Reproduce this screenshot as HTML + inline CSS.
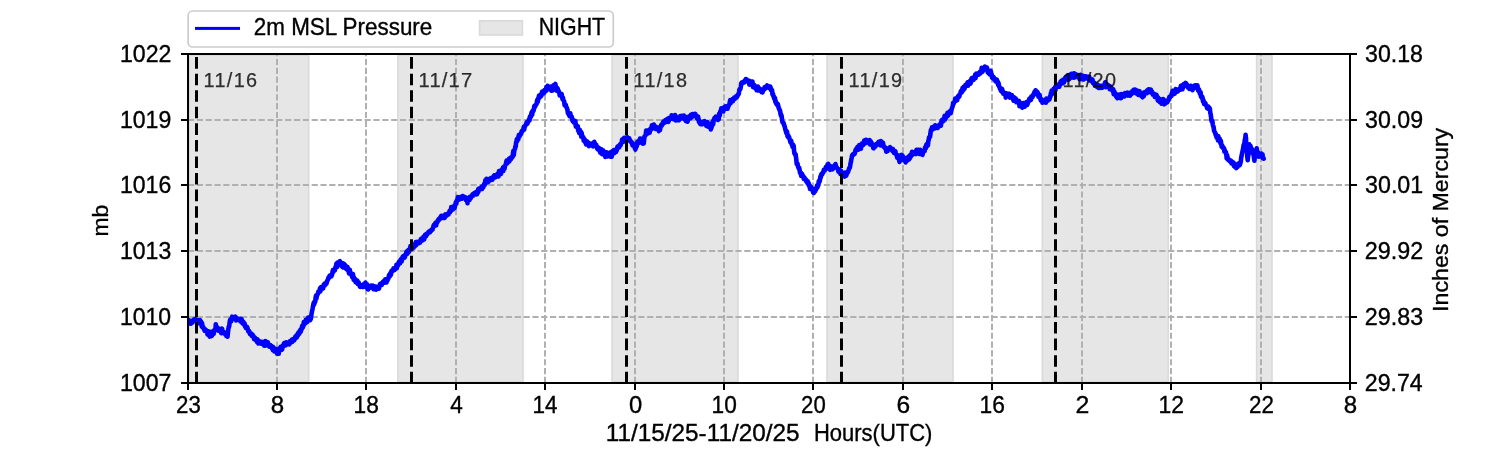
<!DOCTYPE html><html><head><meta charset="utf-8"><style>html,body{margin:0;padding:0;background:#fff;width:1500px;height:450px;overflow:hidden}</style></head><body><svg width="1500" height="450" viewBox="0 0 1500 450" style="display:block;will-change:transform">
<rect width="1500" height="450" fill="#fff"/>
<defs><clipPath id="ax"><rect x="189" y="55" width="1160" height="327"/></clipPath></defs>
<rect x="189.3" y="55.3" width="119.4" height="326.4" fill="#e6e6e6" stroke="#dadada" stroke-width="1.6"/>
<rect x="397.9" y="55.3" width="125.1" height="326.4" fill="#e6e6e6" stroke="#dadada" stroke-width="1.6"/>
<rect x="612.0" y="55.3" width="126.0" height="326.4" fill="#e6e6e6" stroke="#dadada" stroke-width="1.6"/>
<rect x="827.0" y="55.3" width="126.0" height="326.4" fill="#e6e6e6" stroke="#dadada" stroke-width="1.6"/>
<rect x="1042.3" y="55.3" width="125.9" height="326.4" fill="#e6e6e6" stroke="#dadada" stroke-width="1.6"/>
<rect x="1256.6" y="55.3" width="15.4" height="326.4" fill="#e6e6e6" stroke="#dadada" stroke-width="1.6"/>
<line x1="277" y1="383" x2="277" y2="54" stroke="#b0b0b0" stroke-width="2" stroke-dasharray="6.17 2.66"/>
<line x1="366" y1="383" x2="366" y2="54" stroke="#b0b0b0" stroke-width="2" stroke-dasharray="6.17 2.66"/>
<line x1="456" y1="383" x2="456" y2="54" stroke="#b0b0b0" stroke-width="2" stroke-dasharray="6.17 2.66"/>
<line x1="545" y1="383" x2="545" y2="54" stroke="#b0b0b0" stroke-width="2" stroke-dasharray="6.17 2.66"/>
<line x1="635" y1="383" x2="635" y2="54" stroke="#b0b0b0" stroke-width="2" stroke-dasharray="6.17 2.66"/>
<line x1="724" y1="383" x2="724" y2="54" stroke="#b0b0b0" stroke-width="2" stroke-dasharray="6.17 2.66"/>
<line x1="813" y1="383" x2="813" y2="54" stroke="#b0b0b0" stroke-width="2" stroke-dasharray="6.17 2.66"/>
<line x1="903" y1="383" x2="903" y2="54" stroke="#b0b0b0" stroke-width="2" stroke-dasharray="6.17 2.66"/>
<line x1="992" y1="383" x2="992" y2="54" stroke="#b0b0b0" stroke-width="2" stroke-dasharray="6.17 2.66"/>
<line x1="1082" y1="383" x2="1082" y2="54" stroke="#b0b0b0" stroke-width="2" stroke-dasharray="6.17 2.66"/>
<line x1="1171" y1="383" x2="1171" y2="54" stroke="#b0b0b0" stroke-width="2" stroke-dasharray="6.17 2.66"/>
<line x1="1261" y1="383" x2="1261" y2="54" stroke="#b0b0b0" stroke-width="2" stroke-dasharray="6.17 2.66"/>
<line x1="188" y1="120" x2="1350" y2="120" stroke="#b0b0b0" stroke-width="2" stroke-dasharray="6.17 2.66"/>
<line x1="188" y1="185" x2="1350" y2="185" stroke="#b0b0b0" stroke-width="2" stroke-dasharray="6.17 2.66"/>
<line x1="188" y1="251" x2="1350" y2="251" stroke="#b0b0b0" stroke-width="2" stroke-dasharray="6.17 2.66"/>
<line x1="188" y1="317" x2="1350" y2="317" stroke="#b0b0b0" stroke-width="2" stroke-dasharray="6.17 2.66"/>
<g clip-path="url(#ax)"><path d="M188.3,321.8 L188.7,323.2 L189.1,320.4 L189.5,322.8 L189.9,321.2 L190.3,321.1 L190.7,323.8 L191.1,321.5 L191.5,321.2 L191.8,322.1 L192.2,322.6 L192.6,321.1 L193.0,321.8 L193.4,319.8 L193.8,320.5 L194.2,320.4 L194.6,319.2 L195.0,318.9 L195.4,318.9 L195.8,320.8 L196.2,321.0 L196.7,321.0 L197.1,321.6 L197.5,320.0 L197.9,321.7 L198.3,322.2 L198.8,323.0 L199.2,321.2 L199.6,321.9 L200.0,320.0 L200.4,322.5 L200.8,321.2 L201.2,322.6 L201.7,326.4 L202.1,323.1 L202.5,327.3 L202.9,327.3 L203.3,327.1 L203.7,328.6 L204.1,329.3 L204.6,330.5 L205.0,329.4 L205.4,329.5 L205.8,330.1 L206.2,330.2 L206.6,331.9 L207.1,331.5 L207.5,334.4 L207.9,331.3 L208.3,332.8 L208.7,333.0 L209.1,331.7 L209.6,336.6 L210.0,331.7 L210.4,333.8 L210.8,333.5 L211.2,336.3 L211.6,331.7 L212.1,335.6 L212.5,333.3 L212.9,334.0 L213.3,333.4 L213.7,333.8 L214.1,330.3 L214.6,330.4 L215.0,329.6 L215.4,330.3 L215.8,324.2 L216.2,329.0 L216.6,328.6 L217.1,327.1 L217.5,328.4 L217.9,327.8 L218.3,330.8 L218.7,329.3 L219.2,329.1 L219.6,329.4 L220.0,329.7 L220.4,330.0 L220.8,329.4 L221.3,333.3 L221.7,328.6 L222.1,328.7 L222.5,331.3 L222.9,331.6 L223.4,332.5 L223.8,332.0 L224.2,332.3 L224.6,333.1 L225.0,334.1 L225.4,332.6 L225.8,332.9 L226.3,336.0 L226.7,334.4 L227.1,332.7 L227.5,336.7 L227.9,333.1 L228.3,329.3 L228.8,326.5 L229.2,326.2 L229.6,322.7 L230.0,320.4 L230.4,319.4 L230.8,319.8 L231.2,321.2 L231.7,318.7 L232.1,316.7 L232.5,318.8 L232.9,317.4 L233.3,317.8 L233.7,318.5 L234.1,317.0 L234.6,317.3 L235.0,317.7 L235.4,316.6 L235.8,319.2 L236.2,320.4 L236.6,319.1 L237.1,318.9 L237.5,319.1 L237.9,318.7 L238.3,319.0 L238.7,319.7 L239.1,319.4 L239.6,320.1 L240.0,318.8 L240.4,321.5 L240.8,321.3 L241.2,320.0 L241.6,319.1 L242.1,321.9 L242.5,323.5 L242.9,321.4 L243.3,321.9 L243.7,322.5 L244.1,324.7 L244.6,323.4 L245.0,326.5 L245.4,325.6 L245.8,327.8 L246.2,327.4 L246.6,327.7 L247.1,326.9 L247.5,328.6 L247.9,329.8 L248.3,331.6 L248.7,331.6 L249.1,330.9 L249.6,332.8 L250.0,334.0 L250.4,333.1 L250.8,333.2 L251.2,333.7 L251.6,335.8 L252.1,335.9 L252.5,334.5 L252.9,336.7 L253.3,336.1 L253.7,336.2 L254.1,339.2 L254.6,339.2 L255.0,337.7 L255.4,339.2 L255.8,340.2 L256.2,339.3 L256.6,340.4 L257.1,341.9 L257.5,339.3 L257.9,342.4 L258.3,343.4 L258.7,343.2 L259.1,340.9 L259.5,343.0 L259.9,341.6 L260.3,343.5 L260.7,343.5 L261.1,343.1 L261.5,341.9 L261.8,342.2 L262.2,344.0 L262.6,341.9 L263.0,343.7 L263.4,343.8 L263.8,342.8 L264.2,345.7 L264.6,343.3 L265.0,345.8 L265.4,341.0 L265.8,341.2 L266.2,345.1 L266.6,344.9 L267.0,343.9 L267.4,344.4 L267.8,342.3 L268.2,344.1 L268.5,343.8 L268.9,345.0 L269.3,346.6 L269.7,345.8 L270.1,346.4 L270.5,345.2 L270.9,345.8 L271.3,346.6 L271.7,346.3 L272.1,348.7 L272.5,346.4 L272.9,350.2 L273.2,347.0 L273.6,350.0 L274.0,348.0 L274.4,351.5 L274.8,350.0 L275.2,350.7 L275.6,351.5 L276.0,350.2 L276.3,350.0 L276.7,349.2 L277.1,353.7 L277.5,351.6 L277.9,351.3 L278.3,351.6 L278.7,353.7 L279.1,348.6 L279.5,350.6 L279.9,349.4 L280.3,350.1 L280.7,346.7 L281.1,348.1 L281.4,349.2 L281.8,349.7 L282.2,349.3 L282.6,345.7 L283.0,346.5 L283.4,345.8 L283.8,343.8 L284.2,343.3 L284.6,345.6 L285.0,344.5 L285.4,343.8 L285.8,345.3 L286.2,342.3 L286.6,344.1 L287.0,343.2 L287.4,342.9 L287.8,343.4 L288.2,342.8 L288.6,342.7 L289.0,342.5 L289.3,344.4 L289.7,341.4 L290.1,342.9 L290.5,342.2 L290.9,340.8 L291.3,342.0 L291.7,339.7 L292.1,342.1 L292.5,339.4 L292.9,339.6 L293.3,340.4 L293.7,340.6 L294.1,340.3 L294.5,339.8 L294.9,338.0 L295.3,336.6 L295.7,338.0 L296.1,337.3 L296.5,335.3 L296.8,337.3 L297.2,335.8 L297.6,333.9 L298.0,335.3 L298.4,332.6 L298.8,332.7 L299.2,333.9 L299.6,331.0 L300.0,332.5 L300.4,329.9 L300.8,331.6 L301.2,328.9 L301.7,329.1 L302.1,326.1 L302.5,326.7 L302.9,327.4 L303.3,325.9 L303.8,322.1 L304.2,324.7 L304.6,323.7 L305.0,321.2 L305.4,323.3 L305.8,319.9 L306.2,320.9 L306.5,322.2 L306.9,322.2 L307.3,322.0 L307.7,318.7 L308.1,317.6 L308.5,320.2 L308.9,317.6 L309.3,319.0 L309.6,317.4 L310.0,320.1 L310.4,319.5 L310.8,319.0 L311.2,315.9 L311.6,313.6 L312.1,310.8 L312.5,309.2 L312.9,306.7 L313.3,304.6 L313.7,302.6 L314.1,304.6 L314.5,301.7 L314.9,302.3 L315.3,301.3 L315.6,297.6 L316.0,295.7 L316.4,298.6 L316.8,295.6 L317.2,295.4 L317.6,294.0 L318.0,293.7 L318.4,291.5 L318.8,292.3 L319.2,291.3 L319.6,291.4 L319.9,288.4 L320.3,291.4 L320.7,290.3 L321.1,287.1 L321.5,287.9 L321.9,288.3 L322.3,288.5 L322.7,287.2 L323.1,288.5 L323.4,286.2 L323.8,284.4 L324.2,284.3 L324.6,285.6 L325.0,283.3 L325.4,284.6 L325.8,284.4 L326.2,283.3 L326.6,283.3 L326.9,281.3 L327.3,281.0 L327.7,279.8 L328.1,279.2 L328.5,277.5 L328.9,278.1 L329.3,276.8 L329.7,275.6 L330.1,276.9 L330.5,276.6 L330.9,275.0 L331.3,276.4 L331.7,275.2 L332.1,274.7 L332.5,271.9 L332.9,270.2 L333.3,272.1 L333.6,271.1 L334.0,270.9 L334.4,269.9 L334.8,270.3 L335.2,267.7 L335.6,268.2 L336.0,265.6 L336.4,263.7 L336.8,265.1 L337.2,267.0 L337.6,262.5 L338.0,265.4 L338.4,262.7 L338.8,262.5 L339.2,262.6 L339.6,262.3 L340.0,261.1 L340.4,262.9 L340.8,263.7 L341.2,264.5 L341.6,262.9 L342.0,266.1 L342.4,266.9 L342.8,267.4 L343.2,263.6 L343.6,265.9 L344.0,263.7 L344.4,266.9 L344.8,267.5 L345.2,265.7 L345.5,265.5 L345.9,268.2 L346.3,269.1 L346.7,267.7 L347.1,268.8 L347.5,267.1 L347.9,269.1 L348.2,270.7 L348.6,271.1 L349.0,273.3 L349.4,270.4 L349.8,269.7 L350.1,273.2 L350.5,272.4 L350.9,273.9 L351.3,274.9 L351.7,275.3 L352.1,276.9 L352.5,277.4 L352.9,274.1 L353.3,276.7 L353.6,279.9 L354.0,277.4 L354.4,279.7 L354.8,279.0 L355.2,279.1 L355.6,282.1 L356.0,282.0 L356.4,280.8 L356.8,282.7 L357.2,280.4 L357.6,281.6 L358.0,284.0 L358.4,283.4 L358.7,282.5 L359.1,284.8 L359.5,285.1 L359.9,286.7 L360.3,286.8 L360.7,285.7 L361.1,285.2 L361.5,285.4 L361.9,285.1 L362.3,287.0 L362.7,287.0 L363.1,286.5 L363.5,285.1 L363.9,284.1 L364.3,285.3 L364.7,283.6 L365.1,284.7 L365.5,282.7 L365.9,284.7 L366.3,287.4 L366.7,284.7 L367.1,284.5 L367.5,286.6 L367.9,289.3 L368.3,289.4 L368.7,287.5 L369.1,287.3 L369.5,287.7 L369.9,286.5 L370.3,287.6 L370.7,287.1 L371.1,285.5 L371.6,286.6 L372.0,286.9 L372.4,286.0 L372.8,285.6 L373.2,288.0 L373.6,289.2 L374.0,286.3 L374.4,286.4 L374.8,287.8 L375.2,287.2 L375.6,286.7 L376.1,289.7 L376.5,286.9 L376.9,287.5 L377.3,287.9 L377.7,287.1 L378.1,287.5 L378.5,288.1 L378.9,288.7 L379.3,287.3 L379.6,286.0 L380.0,284.0 L380.4,285.0 L380.8,283.5 L381.2,284.1 L381.6,285.0 L382.0,283.6 L382.4,282.8 L382.8,281.8 L383.2,282.5 L383.6,282.4 L384.0,280.9 L384.4,281.1 L384.9,282.6 L385.3,279.2 L385.7,280.5 L386.1,279.3 L386.5,282.5 L386.9,281.0 L387.3,280.6 L387.7,279.8 L388.1,278.9 L388.5,278.2 L389.0,275.1 L389.4,276.7 L389.8,276.5 L390.2,273.2 L390.6,275.3 L391.0,274.4 L391.5,270.9 L391.9,271.5 L392.3,271.0 L392.7,270.0 L393.1,270.8 L393.5,268.4 L393.9,269.3 L394.3,269.5 L394.7,269.8 L395.1,268.6 L395.6,267.9 L396.0,268.7 L396.4,264.9 L396.8,268.3 L397.2,266.3 L397.6,264.8 L398.0,265.5 L398.4,263.0 L398.8,262.0 L399.2,263.4 L399.6,262.1 L400.0,263.3 L400.4,260.5 L400.8,259.3 L401.2,259.0 L401.6,261.6 L402.0,258.7 L402.4,257.5 L402.8,256.6 L403.2,256.1 L403.6,256.8 L404.0,257.2 L404.4,257.7 L404.9,257.2 L405.3,255.7 L405.7,254.1 L406.1,253.5 L406.5,251.6 L406.9,252.4 L407.3,253.8 L407.7,252.3 L408.1,252.6 L408.5,249.8 L408.9,252.0 L409.3,250.7 L409.7,249.8 L410.1,249.6 L410.5,246.0 L410.9,247.2 L411.3,246.2 L411.7,249.3 L412.1,246.6 L412.5,245.9 L413.0,247.4 L413.4,244.7 L413.8,247.6 L414.2,244.6 L414.6,245.2 L415.0,243.9 L415.5,245.8 L415.9,242.0 L416.3,245.1 L416.7,243.0 L417.1,243.7 L417.5,241.9 L417.9,243.3 L418.4,242.9 L418.8,243.1 L419.2,242.4 L419.6,242.5 L420.0,242.6 L420.4,240.5 L420.9,239.2 L421.3,238.7 L421.7,240.9 L422.1,239.0 L422.5,240.4 L422.9,238.6 L423.4,236.8 L423.8,238.7 L424.2,239.5 L424.6,236.4 L425.0,235.0 L425.4,234.6 L425.9,236.3 L426.3,233.9 L426.7,233.7 L427.1,234.7 L427.5,233.5 L427.9,233.3 L428.3,232.2 L428.8,231.7 L429.2,232.4 L429.6,232.0 L430.0,232.2 L430.4,230.5 L430.8,231.2 L431.2,230.8 L431.6,229.7 L432.1,229.6 L432.5,229.6 L432.9,227.9 L433.3,227.1 L433.7,225.2 L434.1,226.2 L434.6,225.1 L435.0,224.2 L435.4,222.9 L435.8,224.0 L436.2,225.4 L436.6,223.0 L437.0,222.1 L437.4,222.1 L437.8,220.4 L438.2,220.8 L438.6,219.4 L438.9,219.0 L439.3,219.6 L439.7,219.2 L440.1,218.3 L440.5,217.0 L440.9,217.9 L441.3,215.8 L441.7,217.7 L442.1,216.4 L442.5,216.9 L442.9,218.0 L443.4,217.8 L443.8,215.6 L444.2,217.0 L444.6,217.9 L445.0,216.1 L445.4,214.4 L445.8,216.2 L446.3,215.7 L446.7,215.7 L447.1,214.7 L447.5,214.2 L447.9,213.7 L448.4,214.6 L448.8,212.9 L449.2,212.4 L449.6,210.8 L450.0,212.3 L450.4,210.2 L450.9,211.0 L451.3,207.1 L451.7,209.5 L452.1,208.7 L452.5,207.8 L452.9,209.6 L453.4,208.0 L453.8,206.9 L454.2,206.0 L454.6,208.1 L455.0,205.8 L455.4,204.7 L455.9,202.0 L456.3,203.7 L456.7,201.8 L457.1,199.8 L457.5,199.1 L457.9,197.0 L458.3,199.8 L458.7,197.5 L459.0,199.8 L459.4,198.1 L459.8,197.7 L460.2,198.9 L460.6,198.6 L461.0,196.8 L461.4,198.0 L461.8,198.7 L462.1,197.5 L462.5,196.0 L462.9,197.3 L463.3,196.3 L463.7,197.1 L464.1,198.2 L464.6,198.4 L465.0,198.6 L465.4,197.1 L465.8,199.9 L466.2,199.6 L466.7,199.6 L467.1,200.7 L467.5,203.2 L467.9,198.7 L468.3,197.9 L468.7,200.4 L469.1,198.0 L469.5,200.1 L469.9,196.8 L470.3,197.0 L470.6,198.1 L471.0,197.8 L471.4,196.7 L471.8,196.3 L472.2,195.1 L472.6,194.2 L473.0,194.1 L473.4,195.5 L473.8,194.3 L474.2,193.2 L474.6,193.4 L475.0,193.8 L475.4,194.1 L475.8,192.2 L476.1,192.1 L476.5,192.4 L476.9,194.3 L477.3,191.9 L477.7,193.0 L478.1,189.3 L478.5,191.8 L478.9,188.5 L479.3,188.5 L479.7,188.6 L480.1,188.7 L480.5,188.6 L480.9,188.4 L481.3,187.8 L481.7,186.5 L482.1,189.1 L482.5,186.6 L482.9,186.3 L483.3,187.4 L483.7,185.5 L484.1,184.4 L484.5,183.4 L484.9,184.7 L485.3,180.4 L485.7,180.5 L486.1,181.7 L486.5,178.9 L486.9,180.3 L487.3,182.5 L487.7,180.4 L488.1,181.1 L488.5,181.6 L488.9,179.1 L489.3,180.8 L489.7,179.5 L490.1,178.6 L490.5,179.4 L490.9,179.4 L491.2,178.7 L491.6,178.0 L492.0,179.8 L492.4,179.7 L492.8,178.7 L493.2,177.6 L493.6,176.1 L494.0,176.1 L494.3,175.5 L494.7,176.8 L495.1,177.4 L495.5,177.1 L495.9,175.7 L496.3,175.0 L496.7,175.4 L497.1,175.1 L497.5,175.4 L497.8,176.3 L498.2,173.3 L498.6,176.4 L499.0,171.1 L499.4,171.1 L499.8,171.2 L500.2,171.3 L500.6,171.8 L501.0,174.0 L501.4,170.1 L501.8,171.8 L502.1,169.5 L502.5,169.6 L502.9,167.6 L503.3,170.9 L503.7,167.8 L504.1,166.5 L504.5,169.0 L504.9,165.9 L505.3,165.4 L505.8,163.9 L506.2,162.2 L506.6,160.6 L507.0,161.4 L507.4,163.3 L507.8,161.5 L508.2,160.4 L508.6,161.6 L509.0,158.8 L509.4,161.4 L509.8,159.3 L510.2,157.9 L510.6,159.5 L511.0,159.0 L511.4,157.6 L511.8,157.3 L512.2,157.3 L512.6,156.9 L513.0,153.2 L513.4,150.8 L513.8,154.9 L514.2,151.1 L514.6,149.4 L515.0,148.9 L515.3,146.4 L515.7,146.7 L516.1,142.3 L516.5,142.1 L516.8,139.3 L517.2,141.3 L517.6,138.4 L518.0,139.4 L518.4,139.0 L518.8,135.1 L519.2,135.6 L519.7,136.1 L520.1,134.6 L520.5,133.6 L520.9,134.2 L521.3,133.5 L521.7,131.0 L522.1,130.8 L522.5,131.1 L522.9,129.9 L523.4,129.1 L523.8,126.8 L524.2,129.7 L524.6,126.6 L525.0,126.5 L525.4,125.4 L525.8,124.8 L526.2,124.3 L526.6,122.3 L527.1,123.2 L527.5,123.5 L527.9,121.8 L528.3,121.5 L528.7,120.4 L529.1,119.1 L529.5,120.5 L529.9,116.6 L530.3,117.1 L530.7,117.2 L531.1,115.4 L531.5,113.0 L531.8,112.1 L532.2,114.7 L532.6,110.7 L533.0,111.2 L533.4,111.0 L533.8,109.7 L534.2,106.6 L534.6,105.6 L535.0,107.1 L535.4,105.3 L535.8,105.1 L536.2,104.6 L536.6,103.8 L537.0,101.0 L537.4,99.6 L537.8,102.0 L538.2,99.1 L538.6,97.6 L539.0,95.6 L539.4,97.9 L539.8,95.2 L540.2,95.0 L540.6,96.6 L541.0,95.8 L541.4,95.7 L541.7,92.9 L542.1,91.6 L542.5,92.4 L542.9,92.8 L543.3,91.9 L543.7,93.4 L544.1,92.3 L544.5,90.1 L544.9,91.7 L545.2,90.3 L545.6,89.5 L546.0,91.0 L546.4,87.1 L546.8,90.0 L547.2,89.7 L547.6,85.9 L548.0,88.3 L548.4,88.4 L548.8,87.3 L549.2,88.1 L549.7,87.9 L550.1,89.1 L550.5,88.4 L550.9,86.7 L551.3,90.8 L551.7,90.5 L552.1,87.8 L552.5,89.4 L552.9,90.3 L553.4,85.2 L553.8,86.1 L554.2,85.4 L554.6,86.2 L555.0,84.6 L555.4,83.9 L555.8,87.9 L556.2,86.6 L556.6,88.5 L557.0,90.8 L557.4,88.0 L557.8,89.1 L558.2,91.4 L558.5,90.7 L558.9,92.2 L559.3,92.2 L559.7,95.4 L560.1,94.3 L560.5,94.6 L560.9,95.0 L561.3,95.9 L561.7,94.1 L562.1,96.7 L562.5,99.0 L562.9,97.5 L563.4,100.1 L563.8,100.9 L564.2,101.3 L564.6,105.4 L565.0,104.8 L565.4,105.3 L565.8,104.9 L566.2,106.9 L566.6,107.4 L567.1,108.7 L567.5,110.0 L567.9,113.2 L568.3,113.4 L568.7,114.5 L569.1,114.7 L569.5,116.2 L569.9,113.5 L570.3,113.3 L570.7,115.9 L571.1,116.6 L571.5,117.0 L571.8,116.8 L572.2,119.1 L572.6,121.1 L573.0,119.8 L573.4,119.9 L573.8,122.4 L574.2,121.1 L574.6,121.7 L575.0,123.2 L575.4,121.0 L575.8,126.6 L576.2,124.8 L576.6,126.3 L577.0,126.8 L577.4,127.6 L577.8,126.1 L578.2,130.8 L578.5,130.0 L578.9,130.4 L579.3,133.2 L579.7,129.8 L580.1,133.1 L580.5,132.7 L580.9,131.7 L581.3,136.7 L581.7,133.0 L582.1,136.0 L582.5,136.5 L582.9,137.7 L583.3,137.1 L583.7,140.8 L584.1,140.2 L584.5,139.1 L584.9,139.9 L585.3,142.6 L585.7,141.6 L586.1,144.5 L586.5,144.3 L586.9,143.2 L587.3,141.5 L587.7,142.3 L588.2,144.4 L588.6,143.3 L589.0,146.2 L589.4,143.4 L589.8,144.4 L590.2,144.8 L590.6,144.0 L591.0,144.3 L591.4,145.2 L591.8,143.7 L592.3,144.3 L592.7,143.5 L593.1,146.4 L593.5,144.1 L593.9,145.0 L594.3,141.8 L594.7,144.1 L595.1,143.7 L595.5,145.5 L595.9,145.3 L596.3,144.9 L596.6,146.3 L597.0,148.1 L597.4,148.8 L597.8,147.2 L598.2,149.6 L598.6,147.8 L599.0,149.8 L599.4,148.3 L599.8,151.1 L600.2,152.6 L600.6,150.0 L601.0,152.3 L601.4,149.2 L601.8,150.6 L602.2,154.2 L602.6,152.0 L602.9,153.0 L603.3,150.6 L603.7,153.0 L604.1,152.4 L604.5,155.2 L604.9,153.3 L605.3,156.9 L605.7,153.3 L606.1,155.4 L606.5,152.4 L606.9,154.4 L607.3,156.4 L607.7,154.6 L608.1,153.1 L608.5,155.3 L608.9,155.8 L609.3,155.1 L609.7,155.7 L610.1,152.6 L610.5,156.7 L610.9,155.2 L611.3,151.7 L611.7,156.6 L612.1,153.3 L612.5,154.2 L613.0,150.7 L613.4,152.0 L613.8,150.2 L614.2,153.2 L614.6,151.5 L615.0,150.2 L615.5,150.6 L615.9,152.1 L616.3,149.4 L616.7,150.7 L617.1,147.9 L617.5,146.7 L618.0,147.5 L618.4,147.1 L618.8,147.1 L619.2,147.4 L619.6,145.1 L620.0,144.5 L620.5,145.3 L620.9,144.3 L621.3,143.1 L621.7,142.8 L622.1,139.6 L622.5,141.0 L622.9,139.2 L623.4,140.4 L623.8,141.6 L624.2,137.9 L624.6,140.8 L625.0,138.5 L625.4,139.0 L625.8,138.8 L626.2,140.3 L626.7,138.6 L627.1,137.0 L627.5,140.0 L627.9,139.5 L628.3,140.5 L628.8,140.6 L629.2,138.3 L629.6,140.2 L630.0,140.2 L630.4,140.6 L630.8,141.5 L631.2,142.5 L631.7,142.1 L632.1,143.3 L632.5,145.4 L632.9,143.5 L633.3,145.4 L633.8,144.9 L634.2,145.6 L634.6,147.1 L635.0,148.5 L635.4,149.5 L635.8,146.7 L636.2,147.4 L636.7,146.2 L637.1,144.9 L637.5,141.6 L637.9,143.6 L638.3,142.8 L638.8,140.8 L639.2,141.5 L639.6,142.5 L640.0,138.5 L640.4,139.7 L640.8,141.8 L641.2,138.7 L641.6,139.9 L642.1,141.9 L642.5,143.1 L642.9,143.7 L643.3,143.5 L643.7,143.5 L644.1,139.9 L644.5,136.3 L645.0,136.1 L645.4,135.6 L645.8,133.8 L646.2,130.6 L646.6,133.2 L646.9,131.4 L647.3,131.8 L647.7,133.6 L648.1,131.3 L648.5,130.4 L648.9,130.7 L649.2,129.8 L649.6,132.8 L650.0,131.0 L650.4,130.7 L650.8,128.2 L651.1,127.8 L651.5,128.5 L651.9,125.2 L652.3,128.6 L652.7,125.2 L653.1,126.5 L653.4,126.3 L653.8,124.5 L654.2,125.4 L654.6,126.3 L655.0,128.2 L655.5,126.7 L655.9,129.0 L656.3,127.7 L656.7,127.3 L657.1,129.0 L657.5,127.7 L658.0,128.9 L658.4,130.0 L658.8,131.0 L659.2,130.3 L659.6,127.3 L660.0,130.0 L660.4,127.7 L660.8,126.3 L661.2,124.8 L661.7,125.7 L662.1,124.6 L662.5,124.2 L662.9,122.4 L663.3,123.6 L663.7,121.2 L664.1,121.9 L664.5,121.5 L665.0,122.5 L665.4,120.1 L665.8,120.5 L666.2,120.4 L666.6,119.7 L667.0,119.6 L667.5,118.8 L667.9,121.1 L668.3,121.9 L668.7,118.5 L669.1,120.4 L669.5,117.7 L670.0,117.9 L670.4,118.2 L670.8,118.5 L671.2,118.6 L671.6,115.4 L672.0,115.9 L672.5,117.4 L672.9,116.7 L673.3,119.2 L673.7,116.6 L674.1,116.3 L674.5,118.8 L675.0,115.0 L675.4,115.4 L675.8,120.5 L676.2,117.4 L676.6,118.5 L677.0,118.3 L677.5,117.7 L677.9,118.8 L678.3,117.5 L678.7,120.3 L679.1,119.9 L679.5,119.6 L679.9,117.5 L680.3,116.0 L680.7,117.7 L681.1,116.8 L681.5,118.5 L681.8,115.8 L682.2,116.6 L682.6,117.7 L683.0,118.0 L683.4,117.4 L683.8,115.5 L684.2,116.1 L684.6,119.4 L685.0,117.9 L685.4,116.7 L685.9,121.1 L686.3,119.6 L686.7,120.8 L687.1,119.3 L687.5,121.7 L688.0,119.5 L688.4,118.8 L688.8,117.2 L689.2,116.3 L689.6,117.6 L690.0,116.9 L690.5,118.4 L690.9,114.8 L691.3,115.0 L691.7,116.2 L692.1,115.9 L692.5,114.0 L692.9,116.6 L693.3,115.3 L693.8,115.7 L694.2,114.9 L694.6,115.7 L695.0,113.8 L695.4,114.0 L695.8,115.6 L696.2,115.5 L696.6,116.3 L696.9,118.1 L697.3,117.8 L697.7,118.8 L698.1,116.6 L698.5,119.3 L698.9,121.8 L699.2,120.5 L699.6,122.1 L700.0,123.6 L700.4,123.1 L700.8,124.2 L701.2,123.7 L701.7,122.8 L702.1,124.3 L702.5,122.4 L702.9,121.9 L703.3,123.2 L703.8,123.5 L704.2,122.4 L704.6,121.2 L705.0,121.8 L705.4,123.1 L705.8,124.1 L706.2,125.8 L706.7,123.7 L707.1,124.0 L707.5,122.1 L707.9,126.6 L708.3,126.5 L708.7,125.7 L709.1,125.2 L709.6,123.9 L710.0,127.7 L710.4,126.2 L710.8,129.4 L711.2,127.6 L711.6,127.4 L711.9,124.8 L712.3,125.6 L712.7,121.5 L713.1,124.3 L713.5,121.6 L713.9,119.3 L714.2,119.5 L714.6,117.9 L715.0,118.6 L715.4,117.4 L715.8,116.7 L716.2,117.8 L716.6,118.0 L717.1,118.6 L717.5,119.2 L717.9,119.9 L718.3,118.8 L718.7,119.3 L719.1,113.8 L719.4,115.2 L719.8,115.4 L720.2,111.6 L720.6,112.0 L720.9,111.5 L721.3,108.3 L721.7,108.5 L722.1,109.8 L722.5,108.6 L722.9,110.8 L723.4,111.2 L723.8,108.5 L724.2,107.0 L724.6,108.3 L725.0,107.5 L725.4,106.3 L725.8,107.5 L726.3,107.3 L726.7,107.3 L727.1,108.8 L727.5,108.8 L727.9,107.3 L728.3,105.7 L728.6,106.0 L729.0,104.8 L729.4,104.4 L729.8,102.2 L730.2,100.2 L730.6,103.2 L730.9,100.6 L731.3,100.0 L731.7,100.0 L732.1,99.7 L732.5,99.1 L732.9,101.2 L733.4,99.2 L733.8,99.1 L734.2,97.5 L734.6,98.2 L735.0,98.7 L735.4,97.8 L735.8,98.0 L736.3,96.2 L736.7,97.6 L737.1,95.7 L737.5,96.1 L737.9,94.5 L738.3,94.5 L738.6,94.4 L739.0,92.2 L739.4,89.5 L739.8,89.6 L740.2,89.5 L740.6,87.9 L740.9,86.4 L741.3,83.1 L741.7,82.6 L742.1,82.2 L742.5,82.2 L742.9,82.8 L743.3,82.3 L743.8,81.6 L744.2,82.5 L744.6,80.7 L745.0,80.9 L745.4,81.2 L745.8,79.1 L746.2,79.9 L746.6,79.4 L747.0,80.0 L747.4,81.3 L747.8,81.5 L748.2,82.2 L748.6,82.4 L748.9,80.7 L749.3,84.6 L749.7,84.2 L750.1,81.1 L750.5,81.9 L750.9,82.4 L751.3,83.4 L751.7,84.1 L752.1,83.7 L752.5,81.6 L753.0,87.1 L753.4,86.0 L753.8,86.4 L754.2,84.9 L754.6,86.3 L755.0,87.8 L755.5,86.5 L755.9,88.9 L756.3,88.0 L756.7,90.3 L757.1,88.5 L757.5,90.4 L757.9,86.6 L758.4,90.5 L758.8,89.4 L759.2,88.5 L759.6,90.4 L760.0,88.8 L760.4,90.3 L760.8,90.5 L761.2,90.8 L761.6,92.1 L762.1,91.4 L762.5,92.3 L762.9,90.8 L763.3,90.2 L763.7,90.1 L764.1,89.2 L764.5,87.4 L765.0,88.8 L765.4,86.8 L765.8,87.5 L766.2,87.2 L766.6,86.5 L767.0,85.5 L767.5,86.6 L767.9,86.1 L768.3,87.5 L768.7,87.1 L769.1,87.9 L769.4,86.6 L769.8,87.3 L770.2,86.6 L770.6,87.5 L770.9,90.0 L771.3,89.3 L771.7,89.8 L772.1,90.5 L772.5,94.4 L772.9,93.7 L773.4,96.4 L773.8,96.2 L774.2,98.7 L774.6,97.5 L775.0,98.3 L775.4,102.1 L775.8,101.1 L776.1,102.6 L776.5,104.1 L776.9,104.6 L777.3,104.9 L777.7,103.8 L778.1,105.2 L778.4,106.8 L778.8,108.3 L779.2,108.9 L779.6,110.3 L780.0,110.3 L780.4,112.8 L780.8,115.5 L781.2,114.7 L781.7,116.6 L782.1,119.9 L782.5,122.3 L782.9,122.3 L783.3,123.3 L783.7,123.2 L784.1,125.4 L784.5,125.7 L785.0,127.9 L785.4,129.8 L785.8,130.6 L786.2,132.7 L786.6,131.0 L787.0,131.8 L787.5,136.2 L787.9,136.9 L788.3,135.5 L788.7,137.7 L789.1,137.0 L789.5,139.2 L790.0,140.4 L790.4,142.1 L790.8,140.5 L791.2,140.9 L791.6,144.1 L792.0,143.8 L792.5,146.8 L792.9,144.4 L793.3,145.9 L793.7,145.8 L794.1,151.4 L794.4,153.4 L794.8,153.9 L795.2,154.7 L795.6,154.2 L795.9,156.7 L796.3,159.4 L796.7,164.1 L797.1,164.1 L797.5,163.5 L797.9,166.0 L798.4,167.4 L798.8,168.6 L799.2,168.0 L799.6,169.9 L800.0,172.9 L800.4,173.1 L800.8,172.4 L801.2,175.9 L801.7,174.3 L802.1,173.9 L802.5,176.1 L802.9,176.6 L803.3,175.9 L803.8,178.9 L804.2,178.6 L804.6,177.8 L805.0,179.2 L805.4,179.8 L805.8,179.4 L806.2,181.3 L806.7,180.4 L807.1,181.5 L807.5,183.3 L807.9,181.6 L808.3,183.5 L808.8,183.4 L809.2,186.2 L809.6,185.3 L810.0,189.0 L810.4,189.0 L810.8,186.7 L811.2,188.2 L811.7,187.9 L812.1,188.8 L812.5,190.1 L812.9,191.5 L813.3,192.6 L813.8,192.8 L814.2,189.3 L814.6,190.7 L815.0,191.5 L815.4,190.2 L815.8,189.7 L816.2,189.2 L816.7,186.7 L817.1,185.4 L817.5,187.5 L817.9,184.8 L818.3,185.3 L818.8,181.0 L819.2,182.3 L819.6,181.5 L820.0,180.0 L820.4,176.6 L820.8,177.5 L821.1,175.1 L821.5,173.9 L821.9,174.5 L822.3,174.4 L822.7,172.8 L823.1,172.1 L823.4,172.3 L823.8,169.9 L824.2,170.5 L824.6,170.6 L825.0,170.0 L825.4,169.5 L825.8,167.1 L826.2,167.6 L826.7,167.0 L827.1,168.0 L827.5,164.5 L827.9,166.4 L828.3,163.8 L828.7,167.0 L829.1,165.9 L829.4,167.0 L829.8,168.5 L830.2,169.8 L830.6,166.8 L830.9,168.6 L831.3,166.4 L831.7,169.0 L832.1,168.0 L832.5,169.3 L833.0,168.0 L833.4,167.9 L833.8,166.1 L834.2,166.7 L834.6,165.4 L835.0,166.4 L835.5,164.1 L835.9,166.0 L836.3,166.7 L836.7,167.5 L837.1,168.0 L837.5,168.9 L838.0,169.4 L838.4,171.5 L838.8,170.5 L839.2,172.2 L839.6,169.6 L840.0,171.6 L840.5,174.0 L840.9,170.7 L841.3,173.5 L841.7,173.3 L842.1,173.2 L842.5,174.3 L843.0,174.2 L843.4,173.1 L843.8,174.6 L844.2,172.8 L844.6,176.6 L845.0,174.3 L845.4,175.1 L845.8,172.6 L846.2,175.7 L846.7,174.3 L847.1,173.1 L847.5,172.6 L847.9,172.5 L848.3,170.8 L848.7,170.1 L849.1,168.5 L849.4,167.7 L849.8,167.7 L850.2,165.7 L850.6,163.1 L850.9,162.1 L851.3,159.5 L851.7,157.7 L852.1,155.5 L852.5,155.1 L852.9,154.3 L853.3,154.9 L853.8,153.9 L854.2,153.9 L854.6,153.9 L855.0,152.5 L855.4,150.7 L855.8,149.4 L856.2,149.4 L856.6,150.2 L857.0,148.0 L857.4,147.0 L857.8,148.3 L858.2,149.7 L858.6,149.6 L858.9,148.5 L859.3,145.1 L859.7,147.0 L860.1,147.8 L860.5,148.0 L860.9,148.7 L861.3,144.9 L861.7,146.3 L862.1,143.4 L862.5,144.5 L862.9,143.8 L863.3,144.8 L863.8,143.5 L864.2,140.6 L864.6,142.2 L865.0,142.3 L865.4,143.1 L865.8,139.9 L866.2,139.9 L866.6,140.4 L867.0,142.5 L867.5,141.0 L867.9,141.6 L868.3,142.2 L868.7,140.8 L869.1,143.3 L869.5,140.1 L870.0,144.5 L870.4,141.5 L870.8,141.4 L871.2,142.6 L871.6,143.0 L872.0,144.3 L872.5,145.4 L872.9,145.9 L873.3,148.1 L873.7,148.3 L874.1,146.7 L874.5,147.3 L875.0,145.6 L875.4,146.5 L875.8,145.4 L876.2,144.0 L876.6,145.1 L877.0,144.3 L877.5,143.3 L877.9,143.7 L878.3,144.0 L878.7,141.7 L879.1,142.5 L879.4,143.8 L879.8,142.9 L880.2,143.8 L880.6,145.3 L880.9,141.1 L881.3,143.0 L881.7,142.0 L882.1,145.0 L882.5,144.6 L883.0,142.8 L883.4,146.6 L883.8,146.0 L884.2,146.3 L884.6,147.4 L885.0,148.3 L885.5,147.7 L885.9,148.9 L886.3,151.8 L886.7,149.5 L887.1,149.7 L887.5,151.1 L887.9,148.7 L888.4,149.3 L888.8,149.6 L889.2,147.8 L889.6,148.2 L890.0,147.2 L890.4,148.3 L890.8,149.2 L891.2,149.2 L891.7,149.7 L892.1,150.2 L892.5,151.0 L892.9,148.9 L893.3,150.7 L893.8,152.8 L894.2,150.8 L894.6,151.1 L895.0,151.7 L895.4,151.5 L895.8,153.9 L896.1,154.0 L896.5,154.5 L896.9,156.4 L897.3,157.7 L897.7,155.2 L898.1,157.1 L898.4,158.1 L898.8,157.5 L899.2,160.8 L899.6,161.9 L900.0,159.9 L900.3,159.9 L900.7,155.2 L901.1,156.6 L901.5,154.9 L901.8,157.0 L902.2,155.2 L902.6,155.9 L903.0,157.4 L903.4,158.4 L903.8,160.2 L904.3,160.5 L904.7,160.6 L905.1,158.1 L905.5,162.4 L905.9,161.6 L906.3,159.1 L906.7,160.7 L907.1,159.7 L907.5,159.4 L907.9,160.2 L908.3,156.8 L908.7,158.9 L909.2,159.1 L909.6,155.6 L910.0,158.3 L910.4,155.2 L910.8,154.6 L911.2,156.3 L911.6,154.6 L912.0,151.8 L912.4,153.1 L912.8,154.6 L913.2,152.9 L913.6,152.9 L914.0,153.3 L914.4,153.1 L914.8,152.1 L915.3,151.7 L915.7,153.2 L916.1,154.0 L916.5,149.8 L916.9,152.7 L917.3,153.3 L917.7,150.7 L918.1,153.5 L918.5,149.9 L918.9,153.1 L919.3,154.0 L919.7,154.0 L920.1,149.7 L920.5,152.4 L921.0,151.1 L921.4,153.0 L921.8,154.4 L922.2,153.2 L922.6,154.9 L923.0,150.8 L923.4,151.0 L923.8,150.6 L924.2,151.3 L924.6,151.2 L925.0,147.8 L925.5,146.8 L925.9,148.3 L926.3,144.7 L926.7,146.3 L927.1,143.7 L927.5,143.8 L927.9,145.6 L928.3,141.1 L928.7,139.9 L929.1,137.2 L929.5,137.3 L930.0,136.9 L930.4,134.2 L930.8,130.1 L931.2,130.6 L931.6,130.5 L932.0,127.2 L932.4,128.2 L932.8,127.1 L933.2,127.5 L933.6,126.9 L934.0,126.4 L934.4,128.6 L934.8,127.9 L935.2,125.3 L935.7,126.5 L936.1,126.8 L936.5,126.2 L936.9,127.8 L937.3,127.2 L937.7,127.9 L938.1,125.6 L938.5,126.3 L938.9,126.7 L939.3,126.0 L939.7,125.3 L940.1,124.1 L940.5,124.2 L940.9,125.7 L941.3,122.0 L941.8,120.2 L942.2,121.9 L942.6,119.7 L943.0,121.1 L943.4,120.7 L943.8,120.8 L944.2,118.5 L944.6,115.8 L945.0,119.5 L945.4,118.2 L945.8,118.3 L946.2,116.4 L946.6,115.4 L947.1,115.5 L947.5,112.7 L947.9,115.9 L948.3,113.4 L948.7,113.0 L949.1,113.9 L949.5,111.9 L949.9,113.6 L950.3,110.9 L950.7,113.3 L951.1,111.4 L951.5,109.8 L951.9,108.4 L952.3,107.2 L952.8,105.6 L953.2,102.9 L953.6,103.7 L954.0,102.4 L954.4,101.9 L954.8,101.7 L955.2,98.6 L955.6,98.8 L956.0,98.8 L956.4,98.5 L956.8,99.5 L957.2,100.3 L957.6,96.9 L958.0,97.3 L958.4,95.8 L958.8,95.5 L959.3,96.7 L959.7,94.1 L960.1,94.0 L960.5,92.7 L960.9,91.2 L961.3,92.7 L961.7,90.5 L962.1,91.9 L962.5,88.0 L962.9,89.3 L963.3,90.2 L963.7,86.9 L964.1,87.8 L964.5,88.8 L964.9,87.1 L965.3,85.2 L965.6,85.4 L966.0,85.8 L966.4,84.3 L966.8,84.1 L967.2,84.4 L967.6,82.3 L968.0,85.6 L968.4,82.3 L968.8,82.7 L969.2,82.5 L969.6,83.7 L969.9,81.1 L970.3,83.7 L970.7,83.1 L971.1,81.3 L971.5,78.3 L971.9,78.0 L972.3,79.0 L972.7,79.3 L973.1,79.5 L973.5,79.9 L973.9,78.6 L974.3,77.7 L974.7,77.8 L975.2,74.5 L975.6,78.1 L976.0,74.4 L976.4,73.6 L976.8,74.8 L977.2,74.8 L977.6,73.5 L978.0,74.5 L978.4,74.3 L978.8,74.5 L979.2,73.7 L979.6,72.1 L980.0,72.4 L980.4,73.4 L980.8,70.9 L981.3,70.6 L981.7,67.7 L982.1,70.2 L982.5,71.8 L982.9,69.7 L983.3,68.0 L983.7,69.4 L984.1,68.9 L984.5,69.3 L984.9,66.5 L985.3,66.8 L985.7,69.5 L986.1,69.5 L986.5,69.8 L987.0,67.6 L987.4,70.8 L987.8,72.5 L988.2,71.9 L988.6,73.2 L989.0,71.6 L989.4,71.7 L989.8,74.4 L990.2,74.0 L990.6,70.7 L991.0,71.9 L991.3,74.7 L991.7,74.3 L992.1,77.7 L992.5,78.0 L992.9,78.2 L993.3,76.7 L993.7,77.4 L994.1,79.2 L994.5,78.4 L994.9,80.2 L995.3,80.3 L995.6,81.4 L996.0,81.2 L996.4,80.6 L996.8,79.6 L997.2,81.0 L997.6,81.4 L998.0,84.8 L998.4,82.8 L998.8,84.5 L999.2,86.6 L999.6,87.5 L1000.0,88.6 L1000.4,88.6 L1000.8,90.6 L1001.2,88.6 L1001.7,91.5 L1002.1,89.0 L1002.5,90.9 L1002.9,92.6 L1003.3,93.6 L1003.7,93.1 L1004.1,93.3 L1004.5,93.3 L1004.9,93.0 L1005.3,93.0 L1005.7,97.6 L1006.1,93.3 L1006.4,93.6 L1006.8,93.5 L1007.2,95.2 L1007.6,95.3 L1008.0,94.8 L1008.4,94.0 L1008.8,95.4 L1009.2,93.8 L1009.5,96.1 L1009.9,97.6 L1010.3,94.5 L1010.7,96.0 L1011.1,95.4 L1011.5,95.9 L1011.9,95.1 L1012.3,97.2 L1012.7,97.4 L1013.1,99.4 L1013.6,100.7 L1014.0,97.2 L1014.4,100.3 L1014.8,98.2 L1015.2,98.9 L1015.6,98.4 L1016.0,100.9 L1016.4,102.2 L1016.8,100.9 L1017.2,101.7 L1017.6,100.8 L1018.0,101.8 L1018.4,101.0 L1018.7,102.9 L1019.1,100.9 L1019.5,106.3 L1019.9,105.8 L1020.3,103.9 L1020.7,104.4 L1021.1,104.5 L1021.5,105.3 L1021.9,105.5 L1022.3,107.7 L1022.7,104.7 L1023.1,103.0 L1023.5,105.8 L1023.9,106.1 L1024.3,104.6 L1024.7,106.7 L1025.1,105.0 L1025.5,103.7 L1026.0,104.1 L1026.4,102.1 L1026.8,102.7 L1027.2,104.9 L1027.6,103.8 L1028.0,102.5 L1028.5,101.4 L1028.9,101.1 L1029.3,98.8 L1029.7,100.0 L1030.1,98.3 L1030.5,97.9 L1030.9,100.1 L1031.3,96.6 L1031.7,97.1 L1032.1,96.6 L1032.5,97.2 L1032.8,95.1 L1033.2,95.5 L1033.6,94.8 L1034.0,93.5 L1034.4,92.4 L1034.8,91.3 L1035.2,93.4 L1035.6,90.4 L1036.0,92.5 L1036.4,93.8 L1036.8,91.6 L1037.2,91.8 L1037.6,92.4 L1038.0,93.7 L1038.4,96.7 L1038.8,94.7 L1039.2,95.0 L1039.6,94.9 L1040.0,97.8 L1040.4,98.7 L1040.8,100.4 L1041.2,99.2 L1041.6,99.3 L1042.0,99.7 L1042.4,102.6 L1042.8,102.5 L1043.2,102.1 L1043.6,100.9 L1044.0,101.5 L1044.4,101.3 L1044.8,101.0 L1045.2,101.4 L1045.6,99.6 L1046.0,102.6 L1046.4,98.6 L1046.9,100.4 L1047.3,100.2 L1047.7,100.2 L1048.1,100.4 L1048.5,98.7 L1048.9,98.3 L1049.3,99.6 L1049.7,98.6 L1050.1,96.2 L1050.5,96.5 L1050.9,93.1 L1051.3,94.4 L1051.7,90.6 L1052.1,93.9 L1052.5,90.8 L1052.9,92.0 L1053.3,90.6 L1053.7,88.9 L1054.1,90.3 L1054.5,91.0 L1054.9,87.4 L1055.3,90.5 L1055.7,88.2 L1056.1,86.2 L1056.5,86.6 L1056.9,87.0 L1057.3,87.0 L1057.7,84.7 L1058.1,84.9 L1058.5,85.6 L1058.9,84.9 L1059.3,86.7 L1059.7,84.9 L1060.1,84.6 L1060.5,82.0 L1060.9,81.6 L1061.3,81.0 L1061.7,81.9 L1062.1,82.4 L1062.5,83.4 L1062.9,82.2 L1063.3,79.5 L1063.7,80.2 L1064.1,82.5 L1064.5,79.9 L1064.9,80.1 L1065.3,77.5 L1065.8,77.2 L1066.2,78.0 L1066.6,78.1 L1067.0,78.8 L1067.4,77.7 L1067.8,75.4 L1068.2,79.9 L1068.6,77.8 L1069.0,75.1 L1069.4,79.1 L1069.8,77.9 L1070.2,76.5 L1070.5,76.7 L1070.9,77.1 L1071.3,73.8 L1071.7,77.5 L1072.1,76.4 L1072.5,76.8 L1072.9,75.1 L1073.3,74.9 L1073.7,77.8 L1074.1,73.3 L1074.5,77.5 L1074.9,77.5 L1075.3,74.1 L1075.7,75.9 L1076.0,75.4 L1076.4,75.7 L1076.8,74.9 L1077.2,74.9 L1077.6,76.8 L1078.0,76.4 L1078.4,77.5 L1078.8,77.8 L1079.2,76.1 L1079.6,79.3 L1080.0,78.9 L1080.4,74.9 L1080.8,76.7 L1081.2,76.4 L1081.6,77.4 L1082.0,75.6 L1082.4,78.9 L1082.8,76.4 L1083.2,79.4 L1083.6,76.0 L1084.0,79.4 L1084.4,77.5 L1084.8,78.3 L1085.2,77.7 L1085.6,77.9 L1086.0,76.3 L1086.4,77.5 L1086.9,76.9 L1087.3,77.7 L1087.7,77.7 L1088.1,79.2 L1088.5,78.8 L1088.9,78.2 L1089.3,76.7 L1089.7,80.5 L1090.1,78.7 L1090.5,79.5 L1090.9,80.9 L1091.3,80.6 L1091.7,81.1 L1092.1,81.5 L1092.5,79.4 L1092.9,83.0 L1093.3,82.2 L1093.7,83.8 L1094.1,83.3 L1094.5,83.0 L1094.9,85.7 L1095.4,84.4 L1095.8,85.8 L1096.2,85.7 L1096.6,86.3 L1097.0,86.9 L1097.4,86.6 L1097.8,84.8 L1098.2,85.7 L1098.6,87.9 L1099.0,86.1 L1099.3,86.0 L1099.7,86.6 L1100.1,87.9 L1100.5,85.8 L1100.9,86.9 L1101.3,86.5 L1101.7,86.4 L1102.1,87.8 L1102.5,85.8 L1102.9,86.1 L1103.2,86.2 L1103.6,85.9 L1104.0,85.5 L1104.4,85.5 L1104.8,83.8 L1105.2,82.3 L1105.6,86.1 L1106.0,87.2 L1106.4,84.8 L1106.9,85.5 L1107.3,86.7 L1107.7,84.8 L1108.1,85.9 L1108.5,85.5 L1108.9,86.9 L1109.3,86.8 L1109.7,89.2 L1110.1,86.4 L1110.5,87.2 L1110.9,86.7 L1111.3,89.2 L1111.7,89.2 L1112.1,89.5 L1112.5,91.0 L1112.9,89.5 L1113.3,89.4 L1113.7,94.2 L1114.1,92.3 L1114.4,91.6 L1114.8,94.7 L1115.2,94.1 L1115.6,93.4 L1115.9,95.5 L1116.3,97.0 L1116.7,97.2 L1117.1,96.1 L1117.5,98.2 L1117.9,95.0 L1118.3,95.8 L1118.7,96.6 L1119.1,94.7 L1119.5,96.8 L1119.8,96.4 L1120.2,97.1 L1120.6,96.2 L1121.0,98.2 L1121.4,94.1 L1121.8,95.2 L1122.2,95.0 L1122.6,95.6 L1123.0,96.2 L1123.4,94.0 L1123.8,96.5 L1124.2,96.5 L1124.6,95.2 L1125.0,93.2 L1125.4,95.6 L1125.7,95.3 L1126.1,93.5 L1126.5,93.7 L1126.9,93.8 L1127.3,92.6 L1127.7,94.7 L1128.1,95.5 L1128.5,94.5 L1128.9,93.1 L1129.3,93.7 L1129.7,93.5 L1130.1,95.7 L1130.5,92.6 L1130.9,93.6 L1131.3,92.4 L1131.7,94.0 L1132.1,91.4 L1132.4,92.8 L1132.8,91.6 L1133.2,92.6 L1133.6,89.9 L1134.0,91.3 L1134.4,92.6 L1134.8,91.9 L1135.2,89.6 L1135.6,93.1 L1136.0,91.5 L1136.4,91.0 L1136.8,91.2 L1137.2,90.8 L1137.5,94.2 L1137.9,94.2 L1138.3,94.7 L1138.7,92.0 L1139.1,91.2 L1139.5,91.3 L1139.9,92.4 L1140.3,93.8 L1140.6,93.4 L1141.0,93.1 L1141.4,96.1 L1141.8,94.9 L1142.2,96.5 L1142.6,97.3 L1143.0,94.4 L1143.4,94.4 L1143.8,96.2 L1144.2,92.4 L1144.6,93.3 L1145.0,92.1 L1145.4,92.9 L1145.7,92.1 L1146.1,92.7 L1146.5,91.5 L1146.9,93.2 L1147.3,90.4 L1147.7,90.9 L1148.1,91.5 L1148.5,89.2 L1148.9,89.2 L1149.3,90.1 L1149.7,90.1 L1150.1,91.9 L1150.5,90.3 L1150.9,89.7 L1151.3,92.6 L1151.7,91.1 L1152.0,91.7 L1152.4,92.5 L1152.8,94.5 L1153.2,94.4 L1153.6,94.0 L1154.0,94.4 L1154.4,93.8 L1154.8,96.9 L1155.2,96.5 L1155.6,94.6 L1156.0,97.2 L1156.4,94.8 L1156.8,95.9 L1157.2,96.4 L1157.6,99.7 L1157.9,100.6 L1158.3,98.6 L1158.7,98.3 L1159.1,101.1 L1159.5,99.1 L1159.9,102.2 L1160.3,99.4 L1160.7,102.3 L1161.1,100.5 L1161.5,103.7 L1161.9,101.7 L1162.3,100.8 L1162.7,101.7 L1163.1,99.1 L1163.5,101.7 L1163.9,102.5 L1164.3,104.3 L1164.6,100.4 L1165.0,103.3 L1165.4,103.4 L1165.8,102.7 L1166.2,101.5 L1166.6,102.1 L1167.0,100.9 L1167.4,102.3 L1167.8,100.5 L1168.2,100.5 L1168.6,100.3 L1169.0,98.2 L1169.4,96.8 L1169.8,97.4 L1170.2,97.0 L1170.6,96.6 L1171.0,95.4 L1171.4,96.1 L1171.8,93.0 L1172.2,93.9 L1172.6,90.8 L1173.0,92.8 L1173.4,92.7 L1173.8,94.0 L1174.2,90.8 L1174.6,93.8 L1175.0,91.2 L1175.4,90.6 L1175.7,89.0 L1176.1,92.1 L1176.5,90.1 L1176.9,91.7 L1177.3,90.7 L1177.7,91.4 L1178.1,90.3 L1178.5,89.3 L1178.9,89.5 L1179.3,89.6 L1179.7,89.8 L1180.1,88.0 L1180.5,89.7 L1180.9,85.7 L1181.3,86.2 L1181.7,88.4 L1182.1,87.5 L1182.4,89.3 L1182.8,87.8 L1183.2,84.8 L1183.6,84.3 L1184.0,85.4 L1184.4,84.9 L1184.8,85.5 L1185.2,83.6 L1185.6,83.0 L1186.0,83.5 L1186.4,84.8 L1186.8,84.3 L1187.2,85.7 L1187.7,87.3 L1188.1,86.6 L1188.5,85.9 L1188.9,88.5 L1189.3,88.8 L1189.7,86.7 L1190.1,87.3 L1190.5,85.8 L1190.9,86.5 L1191.3,86.4 L1191.7,86.1 L1192.1,87.0 L1192.5,90.2 L1192.9,89.2 L1193.3,87.2 L1193.8,88.3 L1194.2,87.9 L1194.6,87.9 L1195.0,85.3 L1195.4,87.6 L1195.8,86.3 L1196.2,87.2 L1196.6,87.6 L1197.0,85.3 L1197.4,85.3 L1197.8,88.3 L1198.2,90.5 L1198.6,90.9 L1199.0,89.4 L1199.4,91.3 L1199.8,93.6 L1200.2,93.5 L1200.6,92.3 L1201.0,96.8 L1201.4,96.0 L1201.8,97.8 L1202.2,96.6 L1202.6,98.0 L1203.0,101.6 L1203.4,100.1 L1203.8,101.9 L1204.2,104.0 L1204.7,102.6 L1205.1,103.2 L1205.5,103.4 L1205.9,105.4 L1206.3,105.4 L1206.7,106.1 L1207.1,108.1 L1207.5,107.2 L1207.9,108.6 L1208.3,106.4 L1208.7,107.7 L1209.1,109.3 L1209.5,107.9 L1209.9,109.1 L1210.3,112.9 L1210.7,114.3 L1211.1,117.5 L1211.5,121.0 L1212.0,120.4 L1212.4,121.6 L1212.8,124.6 L1213.3,126.2 L1213.7,127.6 L1214.1,130.9 L1214.5,131.5 L1214.9,132.5 L1215.3,133.0 L1215.7,135.2 L1216.1,134.5 L1216.5,137.5 L1216.9,135.9 L1217.3,136.5 L1217.7,138.2 L1218.0,140.5 L1218.4,136.4 L1218.8,139.9 L1219.2,138.4 L1219.6,138.5 L1220.0,140.7 L1220.4,143.2 L1220.8,140.8 L1221.2,143.1 L1221.6,146.8 L1222.0,146.9 L1222.4,145.6 L1222.8,147.7 L1223.2,147.7 L1223.6,147.7 L1224.0,148.2 L1224.4,151.8 L1224.8,150.3 L1225.2,151.9 L1225.5,152.4 L1225.9,152.1 L1226.3,154.7 L1226.7,158.4 L1227.1,155.3 L1227.5,157.2 L1227.9,159.5 L1228.3,159.2 L1228.7,159.3 L1229.1,160.7 L1229.5,161.0 L1229.9,161.2 L1230.3,160.9 L1230.7,162.1 L1231.1,160.7 L1231.5,163.4 L1231.9,163.3 L1232.3,163.1 L1232.7,162.1 L1233.1,163.8 L1233.5,162.4 L1233.9,165.9 L1234.3,163.9 L1234.7,166.8 L1235.1,164.9 L1235.5,167.2 L1235.9,167.3 L1236.3,168.0 L1236.7,166.8 L1237.1,164.4 L1237.5,166.9 L1237.9,165.2 L1238.3,163.6 L1238.8,163.8 L1239.2,165.1 L1239.6,165.2 L1240.0,164.4 L1240.4,163.0 L1240.8,161.5 L1241.2,157.8 L1241.5,156.3 L1241.9,154.1 L1242.3,152.2 L1242.7,150.5 L1243.1,148.8 L1243.5,145.8 L1243.9,144.5 L1244.4,143.4 L1244.8,139.8 L1245.2,138.7 L1245.6,134.8 L1246.0,138.4 L1246.3,145.3 L1246.7,146.5 L1247.2,156.2 L1247.7,160.2 L1248.1,156.2 L1248.5,154.6 L1248.9,150.3 L1249.3,144.2 L1249.7,147.7 L1250.1,147.7 L1250.5,146.1 L1250.9,147.9 L1251.3,148.0 L1251.7,148.8 L1252.1,149.5 L1252.5,152.6 L1252.8,152.7 L1253.2,154.1 L1253.6,154.5 L1254.0,157.9 L1254.4,160.8 L1254.8,156.8 L1255.2,155.0 L1255.6,152.3 L1255.9,151.9 L1256.3,151.5 L1256.7,148.4 L1257.1,150.9 L1257.5,153.0 L1257.9,151.9 L1258.3,153.7 L1258.7,156.7 L1259.1,155.3 L1259.6,154.1 L1260.0,155.3 L1260.4,155.6 L1260.9,156.2 L1261.3,153.5 L1261.7,155.7 L1262.1,156.6 L1262.5,154.2 L1262.9,158.2 L1263.3,157.9 L1263.7,158.7" fill="none" stroke="#0000ff" stroke-width="4.6" stroke-linejoin="round" stroke-linecap="round"/></g>
<line x1="196.5" y1="383.3" x2="196.5" y2="54" stroke="#000" stroke-width="3" stroke-dasharray="11.56 5"/>
<line x1="411.5" y1="383.3" x2="411.5" y2="54" stroke="#000" stroke-width="3" stroke-dasharray="11.56 5"/>
<line x1="626.5" y1="383.3" x2="626.5" y2="54" stroke="#000" stroke-width="3" stroke-dasharray="11.56 5"/>
<line x1="841.5" y1="383.3" x2="841.5" y2="54" stroke="#000" stroke-width="3" stroke-dasharray="11.56 5"/>
<line x1="1055.5" y1="383.3" x2="1055.5" y2="54" stroke="#000" stroke-width="3" stroke-dasharray="11.56 5"/>
<text fill-opacity="0.8" stroke-opacity="0.8" x="203.61" y="86.80" font-family="Liberation Sans" font-size="19.86" fill="#000" stroke="#000" stroke-width="0.25" textLength="53.45" lengthAdjust="spacing">11/16</text>
<text fill-opacity="0.8" stroke-opacity="0.8" x="418.59" y="86.80" font-family="Liberation Sans" font-size="20.14" fill="#000" stroke="#000" stroke-width="0.25" textLength="53.58" lengthAdjust="spacing">11/17</text>
<text fill-opacity="0.8" stroke-opacity="0.8" x="633.61" y="86.80" font-family="Liberation Sans" font-size="19.86" fill="#000" stroke="#000" stroke-width="0.25" textLength="53.35" lengthAdjust="spacing">11/18</text>
<text fill-opacity="0.8" stroke-opacity="0.8" x="848.61" y="86.80" font-family="Liberation Sans" font-size="19.86" fill="#000" stroke="#000" stroke-width="0.25" textLength="53.45" lengthAdjust="spacing">11/19</text>
<text fill-opacity="0.8" stroke-opacity="0.8" x="1062.61" y="86.80" font-family="Liberation Sans" font-size="19.86" fill="#000" stroke="#000" stroke-width="0.25" textLength="53.35" lengthAdjust="spacing">11/20</text>
<path d="M187,53H1351V384H187Z M189,55V382H1349V55Z" fill="#000" fill-rule="evenodd"/>
<rect x="187" y="383" width="2" height="7" fill="#000"/>
<text x="176.09" y="413.20" font-family="Liberation Sans" font-size="23.29" fill="#000" stroke="#000" stroke-width="0.35" textLength="24.77" lengthAdjust="spacingAndGlyphs" style="white-space:pre">23</text>
<rect x="276" y="383" width="2" height="7" fill="#000"/>
<text x="270.77" y="413.20" font-family="Liberation Sans" font-size="23.29" fill="#000" stroke="#000" stroke-width="0.35" textLength="13.37" lengthAdjust="spacingAndGlyphs" style="white-space:pre">8</text>
<rect x="365" y="383" width="2" height="7" fill="#000"/>
<text x="353.50" y="413.20" font-family="Liberation Sans" font-size="23.29" fill="#000" stroke="#000" stroke-width="0.35" textLength="25.27" lengthAdjust="spacingAndGlyphs" style="white-space:pre">18</text>
<rect x="455" y="383" width="2" height="7" fill="#000"/>
<text x="450.29" y="413.20" font-family="Liberation Sans" font-size="23.62" fill="#000" stroke="#000" stroke-width="0.35" textLength="12.57" lengthAdjust="spacingAndGlyphs" style="white-space:pre">4</text>
<rect x="544" y="383" width="2" height="7" fill="#000"/>
<text x="532.51" y="413.20" font-family="Liberation Sans" font-size="23.62" fill="#000" stroke="#000" stroke-width="0.35" textLength="25.01" lengthAdjust="spacingAndGlyphs" style="white-space:pre">14</text>
<rect x="634" y="383" width="2" height="7" fill="#000"/>
<text x="628.90" y="413.20" font-family="Liberation Sans" font-size="23.29" fill="#000" stroke="#000" stroke-width="0.35" textLength="13.23" lengthAdjust="spacingAndGlyphs" style="white-space:pre">0</text>
<rect x="723" y="383" width="2" height="7" fill="#000"/>
<text x="711.50" y="413.20" font-family="Liberation Sans" font-size="23.29" fill="#000" stroke="#000" stroke-width="0.35" textLength="25.27" lengthAdjust="spacingAndGlyphs" style="white-space:pre">10</text>
<rect x="812" y="383" width="2" height="7" fill="#000"/>
<text x="801.09" y="413.20" font-family="Liberation Sans" font-size="23.29" fill="#000" stroke="#000" stroke-width="0.35" textLength="24.65" lengthAdjust="spacingAndGlyphs" style="white-space:pre">20</text>
<rect x="902" y="383" width="2" height="7" fill="#000"/>
<text x="896.62" y="413.20" font-family="Liberation Sans" font-size="23.29" fill="#000" stroke="#000" stroke-width="0.35" textLength="13.66" lengthAdjust="spacingAndGlyphs" style="white-space:pre">6</text>
<rect x="991" y="383" width="2" height="7" fill="#000"/>
<text x="979.49" y="413.20" font-family="Liberation Sans" font-size="23.29" fill="#000" stroke="#000" stroke-width="0.35" textLength="25.39" lengthAdjust="spacingAndGlyphs" style="white-space:pre">16</text>
<rect x="1081" y="383" width="2" height="7" fill="#000"/>
<text x="1075.61" y="413.20" font-family="Liberation Sans" font-size="23.29" fill="#000" stroke="#000" stroke-width="0.35" textLength="13.81" lengthAdjust="spacingAndGlyphs" style="white-space:pre">2</text>
<rect x="1170" y="383" width="2" height="7" fill="#000"/>
<text x="1158.48" y="413.20" font-family="Liberation Sans" font-size="23.29" fill="#000" stroke="#000" stroke-width="0.35" textLength="25.52" lengthAdjust="spacingAndGlyphs" style="white-space:pre">12</text>
<rect x="1260" y="383" width="2" height="7" fill="#000"/>
<text x="1249.08" y="413.20" font-family="Liberation Sans" font-size="23.29" fill="#000" stroke="#000" stroke-width="0.35" textLength="24.89" lengthAdjust="spacingAndGlyphs" style="white-space:pre">22</text>
<rect x="1349" y="383" width="2" height="7" fill="#000"/>
<text x="1343.77" y="413.20" font-family="Liberation Sans" font-size="23.29" fill="#000" stroke="#000" stroke-width="0.35" textLength="13.37" lengthAdjust="spacingAndGlyphs" style="white-space:pre">8</text>
<rect x="181" y="53" width="7" height="2" fill="#000"/>
<rect x="1350" y="53" width="7" height="2" fill="#000"/>
<text x="119.97" y="61.95" font-family="Liberation Sans" font-size="23.29" fill="#000" stroke="#000" stroke-width="0.35" textLength="51.43" lengthAdjust="spacingAndGlyphs" style="white-space:pre">1022</text>
<text x="1365.07" y="61.95" font-family="Liberation Sans" font-size="23.29" fill="#000" stroke="#000" stroke-width="0.35" textLength="57.91" lengthAdjust="spacingAndGlyphs" style="white-space:pre">30.18</text>
<rect x="181" y="119" width="7" height="2" fill="#000"/>
<rect x="1350" y="119" width="7" height="2" fill="#000"/>
<text x="119.97" y="127.95" font-family="Liberation Sans" font-size="23.29" fill="#000" stroke="#000" stroke-width="0.35" textLength="51.31" lengthAdjust="spacingAndGlyphs" style="white-space:pre">1019</text>
<text x="1365.07" y="127.95" font-family="Liberation Sans" font-size="23.29" fill="#000" stroke="#000" stroke-width="0.35" textLength="58.03" lengthAdjust="spacingAndGlyphs" style="white-space:pre">30.09</text>
<rect x="181" y="184" width="7" height="2" fill="#000"/>
<rect x="1350" y="184" width="7" height="2" fill="#000"/>
<text x="119.97" y="192.95" font-family="Liberation Sans" font-size="23.29" fill="#000" stroke="#000" stroke-width="0.35" textLength="51.31" lengthAdjust="spacingAndGlyphs" style="white-space:pre">1016</text>
<text x="1365.07" y="192.95" font-family="Liberation Sans" font-size="23.29" fill="#000" stroke="#000" stroke-width="0.35" textLength="58.15" lengthAdjust="spacingAndGlyphs" style="white-space:pre">30.01</text>
<rect x="181" y="250" width="7" height="2" fill="#000"/>
<rect x="1350" y="250" width="7" height="2" fill="#000"/>
<text x="119.97" y="258.95" font-family="Liberation Sans" font-size="23.29" fill="#000" stroke="#000" stroke-width="0.35" textLength="51.31" lengthAdjust="spacingAndGlyphs" style="white-space:pre">1013</text>
<text x="1364.83" y="258.95" font-family="Liberation Sans" font-size="23.29" fill="#000" stroke="#000" stroke-width="0.35" textLength="58.39" lengthAdjust="spacingAndGlyphs" style="white-space:pre">29.92</text>
<rect x="181" y="316" width="7" height="2" fill="#000"/>
<rect x="1350" y="316" width="7" height="2" fill="#000"/>
<text x="119.97" y="324.95" font-family="Liberation Sans" font-size="23.29" fill="#000" stroke="#000" stroke-width="0.35" textLength="51.19" lengthAdjust="spacingAndGlyphs" style="white-space:pre">1010</text>
<text x="1364.84" y="324.95" font-family="Liberation Sans" font-size="23.29" fill="#000" stroke="#000" stroke-width="0.35" textLength="58.27" lengthAdjust="spacingAndGlyphs" style="white-space:pre">29.83</text>
<rect x="181" y="382" width="7" height="2" fill="#000"/>
<rect x="1350" y="382" width="7" height="2" fill="#000"/>
<text x="119.97" y="390.95" font-family="Liberation Sans" font-size="23.29" fill="#000" stroke="#000" stroke-width="0.35" textLength="51.43" lengthAdjust="spacingAndGlyphs" style="white-space:pre">1007</text>
<text x="1364.84" y="390.95" font-family="Liberation Sans" font-size="23.29" fill="#000" stroke="#000" stroke-width="0.35" textLength="57.91" lengthAdjust="spacingAndGlyphs" style="white-space:pre">29.74</text>
<text x="605.67" y="441.00" font-family="Liberation Sans" font-size="23.29" fill="#000" stroke="#000" stroke-width="0.35" textLength="194.00" lengthAdjust="spacingAndGlyphs" style="white-space:pre">11/15/25-11/20/25</text>
<text x="813.94" y="441.00" font-family="Liberation Sans" font-size="23.29" fill="#000" stroke="#000" stroke-width="0.35" textLength="118.46" lengthAdjust="spacingAndGlyphs" style="white-space:pre">Hours(UTC)</text>
<text transform="translate(108.00,235.00) rotate(-90)" x="-1.49" y="0" font-family="Liberation Sans" font-size="22.21" fill="#000" stroke="#000" stroke-width="0.35" textLength="31.78" lengthAdjust="spacingAndGlyphs">mb</text>
<text transform="translate(1448.00,309.80) rotate(-90)" x="-2.08" y="0" font-family="Liberation Sans" font-size="22.07" fill="#000" stroke="#000" stroke-width="0.35" textLength="184.06" lengthAdjust="spacingAndGlyphs">Inches of Mercury</text>
<rect x="188.1" y="11" width="425.2" height="36" rx="4.5" fill="#fff" fill-opacity="0.8" stroke="#cccccc" stroke-width="1.67"/>
<rect x="195" y="26.9" width="45" height="3" fill="#0000ff"/>
<text x="253.78" y="35.20" font-family="Liberation Sans" font-size="23.14" fill="#000" stroke="#000" stroke-width="0.35" textLength="178.54" lengthAdjust="spacingAndGlyphs" style="white-space:pre">2m MSL Pressure</text>
<rect x="479.6" y="20.8" width="42.8" height="14.2" fill="#e6e6e6" stroke="#d9d9d9" stroke-width="1.6"/>
<text x="538.69" y="35.20" font-family="Liberation Sans" font-size="23.14" fill="#000" stroke="#000" stroke-width="0.35" textLength="66.45" lengthAdjust="spacingAndGlyphs" style="white-space:pre">NIGHT</text>
</svg></body></html>
